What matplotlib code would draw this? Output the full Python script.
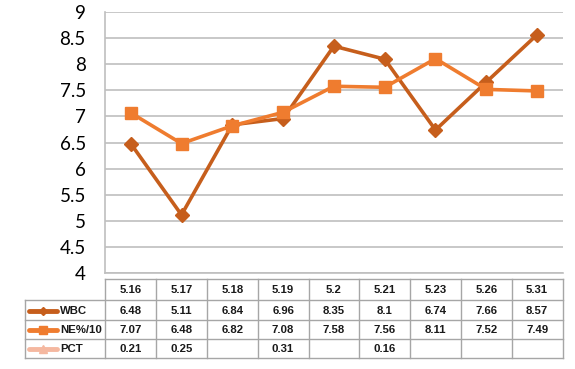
import matplotlib
matplotlib.use("Agg")
import matplotlib.pyplot as plt
import numpy as np

categories = ["5.16", "5.17", "5.18", "5.19", "5.2", "5.21", "5.23", "5.26", "5.31"]
wbc = [6.48, 5.11, 6.84, 6.96, 8.35, 8.1, 6.74, 7.66, 8.57]
ne = [7.07, 6.48, 6.82, 7.08, 7.58, 7.56, 8.11, 7.52, 7.49]
pct = [0.21, 0.25, None, 0.31, None, 0.16, None, None, None]
series_names = ["WBC", "NE%/10", "PCT"]
yticks = [4, 4.5, 5, 5.5, 6, 6.5, 7, 7.5, 8, 8.5, 9]

c_wbc = "#C65E1C"
c_ne = "#EF7C2F"
c_pct = "#F5B8A0"
grid_c = "#BFBFBF"

W, H = 575, 369
fig = plt.figure(figsize=(W / 100, H / 100), dpi=100)

# plot area in pixels
left, right, top, bottom = 105.3, 562.5, 12.3, 272.7
ax = fig.add_axes([left / W, 1 - bottom / H, (right - left) / W, (bottom - top) / H])
x = np.arange(len(categories))

ax.plot(x, wbc, color=c_wbc, lw=2.6, marker="D", ms=7, mec=c_wbc, mfc=c_wbc, zorder=3)
ax.plot(x, ne, color=c_ne, lw=2.6, marker="s", ms=9, mec=c_ne, mfc=c_ne, zorder=4)
pct_x = [i for i, v in enumerate(pct) if v is not None]
pct_y = [v for v in pct if v is not None]
ax.plot(pct_x, pct_y, color=c_pct, lw=2.6, marker="^", ms=8, zorder=2)

ax.set_xlim(-0.5, len(categories) - 0.5)
ax.set_ylim(4, 9)
ax.set_yticks(yticks)
ax.set_yticklabels([f"{t:g}" for t in yticks], fontsize=13.5, family=["Lato", "DejaVu Sans"])
ax.set_xticks([])
ax.tick_params(axis="y", length=0, pad=14)
ax.grid(axis="y", color=grid_c, lw=1.2)
ax.set_axisbelow(True)
for s in ["top", "right"]:
    ax.spines[s].set_visible(False)
ax.spines["left"].set_color(grid_c)
ax.spines["left"].set_linewidth(1.2)
ax.spines["bottom"].set_color(grid_c)
ax.spines["bottom"].set_linewidth(1.2)

# data table drawn in pixel coordinates
tax = fig.add_axes([0, 0, 1, 1], zorder=-1)
tax.set_xlim(0, W)
tax.set_ylim(H, 0)
tax.axis("off")

row_y = [279.3, 300.0, 320.0, 338.7, 357.7]
label_left = 25.0
n = len(categories)
col_w = (right - left) / n
col_x = [left + i * col_w for i in range(n + 1)]
lc = "#A6A6A6"
lw = 1.0
# horizontal lines
tax.plot([left, right], [row_y[0], row_y[0]], color=lc, lw=lw)
for yy in row_y[1:]:
    tax.plot([label_left, right], [yy, yy], color=lc, lw=lw)
# vertical lines
tax.plot([label_left, label_left], [row_y[1], row_y[-1]], color=lc, lw=lw)
for xx in col_x:
    tax.plot([xx, xx], [row_y[0], row_y[-1]], color=lc, lw=lw)

tfont = dict(family=["Liberation Sans", "DejaVu Sans"], fontweight="bold", fontsize=8.2,
             ha="center", va="center", color="#1A1A1A")
for i, cat in enumerate(categories):
    cx = left + (i + 0.5) * col_w
    tax.text(cx, (row_y[0] + row_y[1]) / 2 + 0.5, cat, **tfont)

rows = [wbc, ne, pct]
colors = [c_wbc, c_ne, c_pct]
markers = ["D", "s", "^"]
msizes = [4.5, 5.5, 5.5]
for r, (vals, name, c, m, msz) in enumerate(zip(rows, series_names, colors, markers, msizes)):
    cy = (row_y[r + 1] + row_y[r + 2]) / 2 + 0.5
    tax.plot([29, 57], [cy, cy], color=c, lw=3.5, solid_capstyle="round")
    tax.plot([43], [cy], marker=m, color=c, ms=msz)
    tax.text(60, cy, name, **{**tfont, "ha": "left"})
    for i, v in enumerate(vals):
        if v is None:
            continue
        cx = left + (i + 0.5) * col_w
        tax.text(cx, cy, f"{v:g}", **tfont)

fig.savefig("out.png", dpi=100)
